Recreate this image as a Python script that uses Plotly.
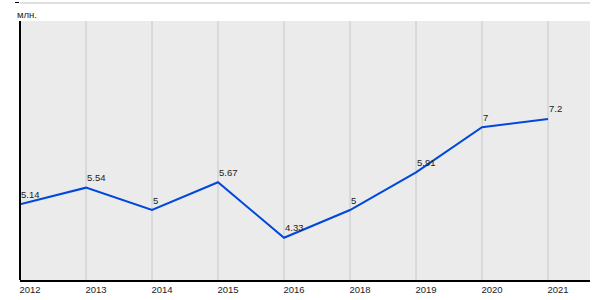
import plotly.graph_objects as go

years = ["2012", "2013", "2014", "2015", "2016", "2018", "2019", "2020", "2021"]
values = [5.14, 5.54, 5.0, 5.67, 4.33, 5.0, 5.91, 7.0, 7.2]
labels = ["5.14", "5.54", "5", "5.67", "4.33", "5", "5.91", "7", "7.2"]
unit_label = "млн."
y_top_tick = 10

FONT = "Liberation Sans, Arial, sans-serif"
Y_MIN, Y_MAX = 3.31, 10.072
BAND_TOP = 9.565  # top of the grey plotting band

fig = go.Figure()
fig.add_trace(go.Scatter(
    x=years, y=values, mode="lines",
    line=dict(color="#0047DC", width=2),
    hoverinfo="skip",
))

shapes = [dict(type="rect", xref="paper", yref="y", x0=0, x1=1, y0=Y_MIN, y1=BAND_TOP,
               fillcolor="#EBEBEB", line=dict(width=0), layer="below")]
for i in range(1, len(years)):
    shapes.append(dict(type="line", xref="x", yref="y", x0=i, x1=i, y0=Y_MIN, y1=BAND_TOP,
                       line=dict(color="#C8C8C8", width=1), layer="below"))
shapes.append(dict(type="line", xref="paper", yref="y", x0=0, x1=1,
                   y0=y_top_tick, y1=y_top_tick,
                   line=dict(color="#C0C0C0", width=1), layer="below"))
shapes.append(dict(type="line", xref="paper", yref="y", x0=0, x1=0, y0=Y_MIN, y1=BAND_TOP,
                   line=dict(color="#000000", width=2), layer="above"))

annotations = [dict(text=unit_label, xref="paper", yref="paper", x=0, y=1,
                    xanchor="left", yanchor="top", yshift=-7, xshift=-5, showarrow=False,
                    font=dict(family=FONT, size=9.5, color="#222222")),
               dict(text=str(y_top_tick), xref="paper", yref="y", x=0, y=y_top_tick,
                    xanchor="right", yanchor="middle", xshift=-7, yshift=6, showarrow=False,
                    font=dict(family=FONT, size=9.5, color="#222222"))]
for i, (v, lab) in enumerate(zip(values, labels)):
    annotations.append(dict(text=lab, x=i, y=v, xref="x", yref="y",
                            xanchor="left", yanchor="middle", yshift=10, xshift=-1,
                            showarrow=False,
                            font=dict(family=FONT, size=9.5, color="#222222")))

fig.update_layout(
    width=600, height=300,
    margin=dict(l=20, r=10, t=0, b=20),
    paper_bgcolor="white", plot_bgcolor="white",
    showlegend=False,
    font=dict(family=FONT, size=9.5, color="#222222"),
    shapes=shapes,
    annotations=annotations,
    xaxis=dict(type="category", range=[0, 8.636], showgrid=False, zeroline=False,
               showline=True, linecolor="#000000", linewidth=2,
               ticks="", tickfont=dict(family=FONT, size=9.5, color="#222222"),
               ticklabelshift=10, ticklabelstandoff=0, fixedrange=True),
    yaxis=dict(range=[Y_MIN, Y_MAX], tickvals=[y_top_tick], showticklabels=False,
               showgrid=False, zeroline=False,
               showline=False, ticks="outside", ticklen=4, tickcolor="#000000",
               fixedrange=True),
)

fig.write_html("out.html")
